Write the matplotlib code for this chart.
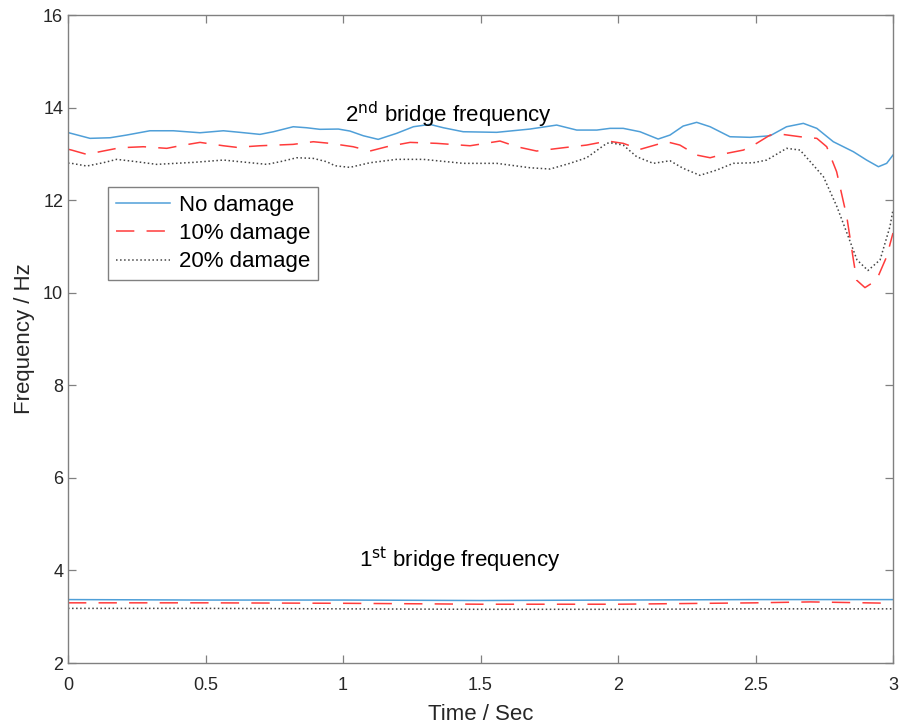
import numpy as np
import matplotlib.pyplot as plt

plt.rcParams['font.family'] = ['Liberation Sans', 'DejaVu Sans']

# 2nd bridge frequency, sampled along time (sec)
t2_none = [0.0, 0.013, 0.08, 0.153, 0.213, 0.298, 0.383, 0.48, 0.565, 0.625, 0.698, 0.747,
           0.819, 0.868, 0.916, 0.983, 1.025, 1.074, 1.128, 1.195, 1.256, 1.316, 1.365,
           1.437, 1.559, 1.68, 1.777, 1.85, 1.923, 1.971, 2.019, 2.08, 2.146, 2.189, 2.237,
           2.286, 2.335, 2.407, 2.48, 2.553, 2.613, 2.674, 2.723, 2.783, 2.856, 2.904,
           2.947, 2.977, 3.0]
f2_none = [13.46, 13.44, 13.335, 13.348, 13.406, 13.499, 13.499, 13.456, 13.499, 13.465,
           13.421, 13.478, 13.586, 13.564, 13.53, 13.536, 13.493, 13.391, 13.313, 13.443,
           13.586, 13.637, 13.564, 13.478, 13.465, 13.536, 13.622, 13.514, 13.514, 13.551,
           13.551, 13.478, 13.32, 13.406, 13.601, 13.681, 13.586, 13.37, 13.357, 13.391,
           13.586, 13.659, 13.551, 13.262, 13.046, 12.866, 12.722, 12.795, 12.974]

t2_10 = [0.0, 0.013, 0.068, 0.128, 0.189, 0.274, 0.359, 0.407, 0.48, 0.565, 0.613, 0.698,
         0.819, 0.892, 0.953, 1.037, 1.098, 1.159, 1.244, 1.341, 1.462, 1.571, 1.632, 1.704,
         1.801, 1.886, 1.962, 2.019, 2.08, 2.177, 2.225, 2.286, 2.335, 2.395, 2.456, 2.504,
         2.553, 2.589, 2.662, 2.723, 2.759, 2.795, 2.832, 2.856, 2.868, 2.898, 2.94, 2.977,
         3.0]
f2_10 = [13.10, 13.082, 12.989, 13.061, 13.132, 13.154, 13.119, 13.175, 13.248, 13.175,
         13.141, 13.175, 13.205, 13.262, 13.227, 13.154, 13.061, 13.154, 13.248, 13.227,
         13.175, 13.277, 13.154, 13.061, 13.132, 13.19, 13.277, 13.227, 13.097, 13.262,
         13.19, 12.974, 12.916, 13.011, 13.082, 13.227, 13.406, 13.428, 13.37, 13.335,
         13.154, 12.614, 11.64, 10.71, 10.27, 10.11, 10.27, 10.78, 11.29]

t2_20 = [0.0, 0.013, 0.068, 0.128, 0.177, 0.25, 0.322, 0.456, 0.565, 0.65, 0.723, 0.771,
         0.832, 0.892, 0.941, 0.971, 1.025, 1.098, 1.195, 1.292, 1.437, 1.559, 1.68, 1.753,
         1.825, 1.886, 1.959, 1.971, 2.019, 2.068, 2.128, 2.189, 2.237, 2.298, 2.359, 2.419,
         2.492, 2.541, 2.613, 2.662, 2.71, 2.747, 2.796, 2.833, 2.869, 2.909, 2.953, 2.989,
         3.0]
f2_20 = [12.80, 12.795, 12.737, 12.808, 12.881, 12.83, 12.773, 12.816, 12.866, 12.816,
         12.773, 12.83, 12.916, 12.902, 12.83, 12.743, 12.708, 12.808, 12.881, 12.881,
         12.795, 12.795, 12.70, 12.672, 12.795, 12.916, 13.227, 13.24, 13.19, 12.938,
         12.795, 12.851, 12.687, 12.536, 12.65, 12.795, 12.808, 12.866, 13.119, 13.082,
         12.758, 12.506, 11.86, 11.28, 10.71, 10.48, 10.71, 11.43, 11.79]

# 1st bridge frequency
t1 = [0.0, 0.5, 1.0, 1.5, 2.0, 2.5, 2.7, 3.0]
f1_none = [3.37, 3.36, 3.36, 3.35, 3.36, 3.37, 3.37, 3.37]
f1_10 = [3.30, 3.30, 3.29, 3.27, 3.27, 3.30, 3.32, 3.29]
f1_20 = [3.18, 3.18, 3.17, 3.16, 3.16, 3.17, 3.17, 3.17]

blue = '#4f9fd8'
red = '#ff3b3b'
gray = '#444444'
dash = (12, 8)

fig = plt.figure(figsize=(9, 7.25), dpi=100)
ax = fig.add_axes([68 / 900, 1 - 663 / 725, 825 / 900, 648 / 725])

ax.plot(t2_none, f2_none, '-', color=blue, lw=1.1, label='No damage')
ax.plot(t2_10, f2_10, '--', color=red, lw=1.1, dashes=dash, label='10% damage')
ax.plot(t2_20, f2_20, ':', color=gray, lw=1.1, label='20% damage')
ax.plot(t1, f1_none, '-', color=blue, lw=1.1)
ax.plot(t1, f1_10, '--', color=red, lw=1.1, dashes=dash)
ax.plot(t1, f1_20, ':', color=gray, lw=1.1)

ax.text(1.385, 13.85, r'2$^{\rm nd}$ bridge frequency', ha='center', va='center', fontsize=16)
ax.text(1.426, 4.22, r'1$^{\rm st}$ bridge frequency', ha='center', va='center', fontsize=16)

ax.set_xlim(0, 3)
ax.set_ylim(2, 16)
ax.set_xticks(np.arange(0, 3.01, 0.5))
ax.set_xticklabels(['0', '0.5', '1', '1.5', '2', '2.5', '3'])
ax.set_yticks(np.arange(2, 17, 2))
ax.tick_params(direction='in', top=True, right=True, labelsize=13, length=6,
               color='#808080', labelcolor='#262626', width=0.9)
ax.tick_params(axis='x', pad=10)
for s in ax.spines.values():
    s.set_color('#808080')
    s.set_linewidth(1.0)
ax.set_xlabel('Time / Sec', fontsize=16, labelpad=7, color='#262626')
ax.set_ylabel('Frequency / Hz', fontsize=16, labelpad=6, color='#262626')

leg = ax.legend(loc='upper left', bbox_to_anchor=(0.0485, 0.7346), fontsize=16,
                fancybox=False, edgecolor='#808080', framealpha=1, handlelength=2.45,
                borderpad=0.35, borderaxespad=0, labelspacing=0.33, handletextpad=0.4)
leg.get_frame().set_linewidth(1.0)

fig.savefig('out.png', dpi=100)
